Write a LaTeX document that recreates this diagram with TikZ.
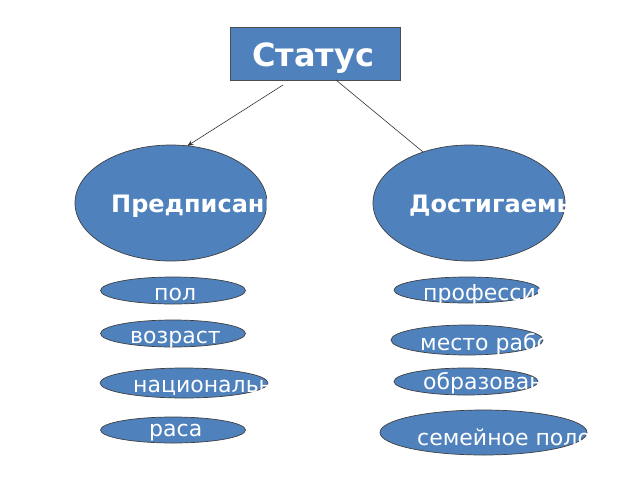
\documentclass[tikz,border=0pt]{standalone}
\usepackage{fontspec}
\setmainfont{DejaVu Sans}
\usetikzlibrary{shapes.geometric,arrows.meta}
\definecolor{blu}{RGB}{79,129,189}
\begin{document}
\begin{tikzpicture}[x=1pt,y=-1pt,
  blob/.style={ellipse,draw=black!75,fill=blu,line width=0.7pt,inner sep=0pt,outer sep=0pt},
  lbl/.style={anchor=base west,text=white,inner sep=0pt,font=\fontsize{22}{22}\selectfont},
  biglbl/.style={anchor=base west,text=white,inner sep=0pt,font=\bfseries\fontsize{24}{24}\selectfont},
  conn/.style={draw=black!80,line width=0.6pt}]
\useasboundingbox (0,0) rectangle (640,480);
% title box
\node[fill=blu,draw=black!70,line width=0.7pt,minimum width=170pt,minimum height=53pt,inner sep=0pt,outer sep=0pt] (st) at (315,53.5) {};
\node[anchor=base,text=white,inner sep=0pt,font=\bfseries\fontsize{32}{32}\selectfont] (stt) at (313,66) {Статус};
% big ellipses
\node[blob,minimum width=192pt,minimum height=116pt] (pre) at (171,203) {};
\node[blob,minimum width=192pt,minimum height=116pt] (dos) at (469,203) {};
\node[biglbl] (pret) at (111,212) {Предписанный};
\node[biglbl] (dost) at (409,212) {Достигаемый};
% left small ellipses
\node[blob,minimum width=145pt,minimum height=27pt] (pol) at (173,290.5) {};
\node[blob,minimum width=145pt,minimum height=27pt] (voz) at (173,333.5) {};
\node[blob,minimum width=168pt,minimum height=30pt] (nat) at (184,383) {};
\node[blob,minimum width=145pt,minimum height=26pt] (ras) at (173,430) {};
\node[lbl] (polt) at (154,300) {пол};
\node[lbl] (vozt) at (130,343) {возраст};
\node[lbl] (natt) at (133,392) {национальность};
\node[lbl] (rast) at (149,436) {раса};
% right small ellipses
\node[blob,minimum width=146pt,minimum height=26pt] (pro) at (467,290) {};
\node[blob,minimum width=152pt,minimum height=30pt] (mes) at (467,340) {};
\node[blob,minimum width=144pt,minimum height=27pt] (obr) at (466,381.5) {};
\node[blob,minimum width=207pt,minimum height=45pt] (sem) at (483.5,432.5) {};
\node[lbl] (prot) at (423,300) {профессия};
\node[lbl] (mest) at (420,350) {место работы};
\node[lbl] (obrt) at (423,389) {образование};
\node[lbl] (semt) at (417,445) {семейное положение};
% connectors
\draw[conn,-{Stealth[length=6pt,width=5pt]}] ([xshift=-32pt,yshift=-5pt]st.south) -- (pre.74);
\draw[conn] ([xshift=21pt]st.south) -- (dos.132);
\end{tikzpicture}
\end{document}
